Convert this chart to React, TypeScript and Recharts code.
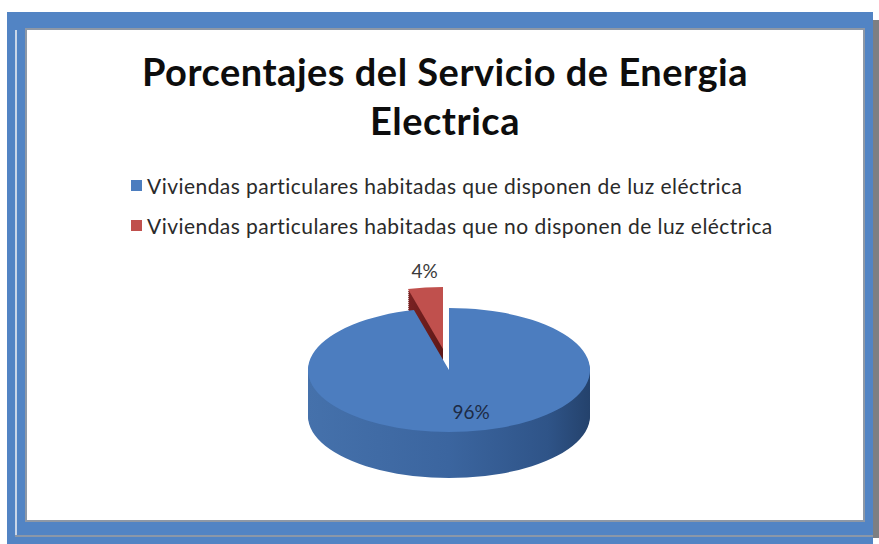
import React from 'react';
import { PieChart, Pie, Cell, Legend } from 'recharts';

// data
const categories = [
  'Viviendas particulares habitadas que disponen de luz eléctrica',
  'Viviendas particulares habitadas que no disponen de luz eléctrica',
];
const shares = [96, 4];
const topColors = ['#4c7dbf', '#c0504d'];
const sideColors = ['url(#sideBlue)', 'url(#sideRed)'];
const explodedIndex = 1;

const data = categories.map((name, i) => ({ name, value: shares[i] }));

const W = 879;
const H = 544;
const CX = 449;
const CY = 370;
const R = 141;
const TILT = 0.44; // vertical squash of the pie to fake the 3d look
const DEPTH = 46;
const STEP = 2;
const EXPLODE = 48;
const RAD = Math.PI / 180;

// direction in which the small slice is pulled out
const total = shares.reduce((a, b) => a + b, 0);
const before = shares.slice(0, explodedIndex).reduce((a, b) => a + b, 0);
const explodeMid = 90 - (360 * (before + shares[explodedIndex] / 2)) / total;
const EX = EXPLODE * Math.cos(explodeMid * RAD);
const EY = -EXPLODE * Math.sin(explodeMid * RAD);

const layers: number[] = [];
for (let d = DEPTH; d > 0; d -= STEP) layers.push(d);

const squashY = (y: number) => CY + (y - CY) * TILT;

const makeLabel = (showIndex: number, inside: boolean) => (props: any) => {
  const { cx, cy, midAngle, outerRadius, percent, index } = props;
  if (index !== showIndex) return null;
  const r = inside ? outerRadius * 0.68 : outerRadius + 38;
  const x = cx + r * Math.cos(-midAngle * RAD) + (inside ? 10 : 4);
  const y = squashY(cy + r * Math.sin(-midAngle * RAD));
  return (
    <text
      x={x}
      y={y}
      textAnchor="middle"
      dominantBaseline="central"
      fontFamily="Lato, 'Open Sans', sans-serif"
      fontSize={19}
      fill={inside ? '#1d2b45' : '#3a3a3a'}
    >
      {`${Math.round(percent * 100)}%`}
    </text>
  );
};

const LegendRows = (props: any) => {
  let items = (props.payload || []).filter(
    (p: any) => p.type !== 'none' && p.color && p.color !== 'transparent'
  );
  if (!items.length) {
    items = categories.map((c, i) => ({ value: c, color: topColors[i] }));
  }
  return (
    <div>
      {items.map((p: any, i: number) => (
        <div
          key={i}
          style={{
            height: 40,
            display: 'flex',
            alignItems: 'center',
            fontFamily: "Lato, 'Open Sans', sans-serif",
            fontSize: 21,
            letterSpacing: 0.45,
            color: '#2a2a2a',
            whiteSpace: 'nowrap',
          }}
        >
          <span
            style={{
              display: 'inline-block',
              width: 11,
              height: 11,
              background: p.color,
              marginRight: 5,
            }}
          />
          {p.value}
        </div>
      ))}
    </div>
  );
};

export default function App() {
  return (
    <div style={{ position: 'absolute', left: 0, top: 0, width: W, height: H, background: '#fff' }}>
      <style>{`.recharts-sector { transform-origin: ${CX}px ${CY}px; transform: scaleY(${TILT}); }`}</style>
      {/* frame */}
      <div style={{ position: 'absolute', left: 872, top: 20, width: 7, height: 518, background: '#7d7f83' }} />
      <div style={{ position: 'absolute', left: 7, top: 12, width: 866, height: 532, background: '#5284c4' }} />
      <div style={{ position: 'absolute', left: 15, top: 30, width: 2, height: 506, background: '#c9d6e8' }} />
      <div style={{ position: 'absolute', left: 15, top: 535, width: 858, height: 2, background: '#8b97a8' }} />
      <div style={{ position: 'absolute', left: 25, top: 28, width: 840, height: 494, background: '#8e98a6' }} />
      <div style={{ position: 'absolute', left: 27, top: 30, width: 836, height: 490, background: '#ffffff' }} />

      <div
        style={{
          position: 'absolute',
          left: 27,
          top: 47,
          width: 836,
          textAlign: 'center',
          fontFamily: "Lato, 'Open Sans', sans-serif",
          fontWeight: 700,
          fontSize: 38,
          letterSpacing: 0.5,
          lineHeight: '49px',
          color: '#0d0d0d',
        }}
      >
        Porcentajes del Servicio de Energia
        <br />
        Electrica
      </div>

      <div style={{ position: 'absolute', left: 0, top: 0 }}>
        <PieChart width={W} height={H} margin={{ top: 0, right: 0, bottom: 0, left: 0 }}>
          <defs>
            <linearGradient id="sideBlue" x1="0" y1="0" x2="1" y2="0">
              <stop offset="0%" stopColor="#4571ab" />
              <stop offset="50%" stopColor="#3b659f" />
              <stop offset="85%" stopColor="#2f5488" />
              <stop offset="100%" stopColor="#24426c" />
            </linearGradient>
            <linearGradient id="sideRed" x1="0" y1="0" x2="1" y2="0">
              <stop offset="0%" stopColor="#7a2222" />
              <stop offset="100%" stopColor="#5e1818" />
            </linearGradient>
          </defs>

          {/* side wall of the pulled-out slice */}
          {layers.map((d) => (
            <Pie
              key={`rs-${d}`}
              data={data}
              dataKey="value"
              nameKey="name"
              cx={CX + EX}
              cy={CY + EY + d / TILT}
              outerRadius={R}
              startAngle={90}
              endAngle={-270}
              stroke="none"
              legendType="none"
              isAnimationActive={false}
            >
              {data.map((_, i) => (
                <Cell key={i} fill={i === explodedIndex ? sideColors[i] : 'transparent'} stroke="none" />
              ))}
            </Pie>
          ))}

          {/* top of the pulled-out slice */}
          <Pie
            data={data}
            dataKey="value"
            nameKey="name"
            cx={CX + EX}
            cy={CY + EY}
            outerRadius={R}
            startAngle={90}
            endAngle={-270}
            stroke="none"
            legendType="square"
            label={makeLabel(explodedIndex, false)}
            labelLine={false}
            isAnimationActive={false}
          >
            {data.map((_, i) => (
              <Cell key={i} fill={i === explodedIndex ? topColors[i] : 'transparent'} stroke="none" />
            ))}
          </Pie>

          {/* side wall of the big slice */}
          {layers.map((d) => (
            <Pie
              key={`bs-${d}`}
              data={data}
              dataKey="value"
              nameKey="name"
              cx={CX}
              cy={CY + d / TILT}
              outerRadius={R}
              startAngle={90}
              endAngle={-270}
              stroke="none"
              legendType="none"
              isAnimationActive={false}
            >
              {data.map((_, i) => (
                <Cell key={i} fill={i !== explodedIndex ? sideColors[i] : 'transparent'} stroke="none" />
              ))}
            </Pie>
          ))}

          {/* top of the big slice */}
          <Pie
            data={data}
            dataKey="value"
            nameKey="name"
            cx={CX}
            cy={CY}
            outerRadius={R}
            startAngle={90}
            endAngle={-270}
            stroke="none"
            legendType="square"
            label={makeLabel(0, true)}
            labelLine={false}
            isAnimationActive={false}
          >
            {data.map((_, i) => (
              <Cell key={i} fill={i !== explodedIndex ? topColors[i] : 'transparent'} stroke="none" />
            ))}
          </Pie>

          <Legend
            layout="vertical"
            align="center"
            verticalAlign="middle"
            content={<LegendRows />}
            wrapperStyle={{ left: 131, top: 165, width: 720 }}
          />
        </PieChart>
      </div>
    </div>
  );
}
